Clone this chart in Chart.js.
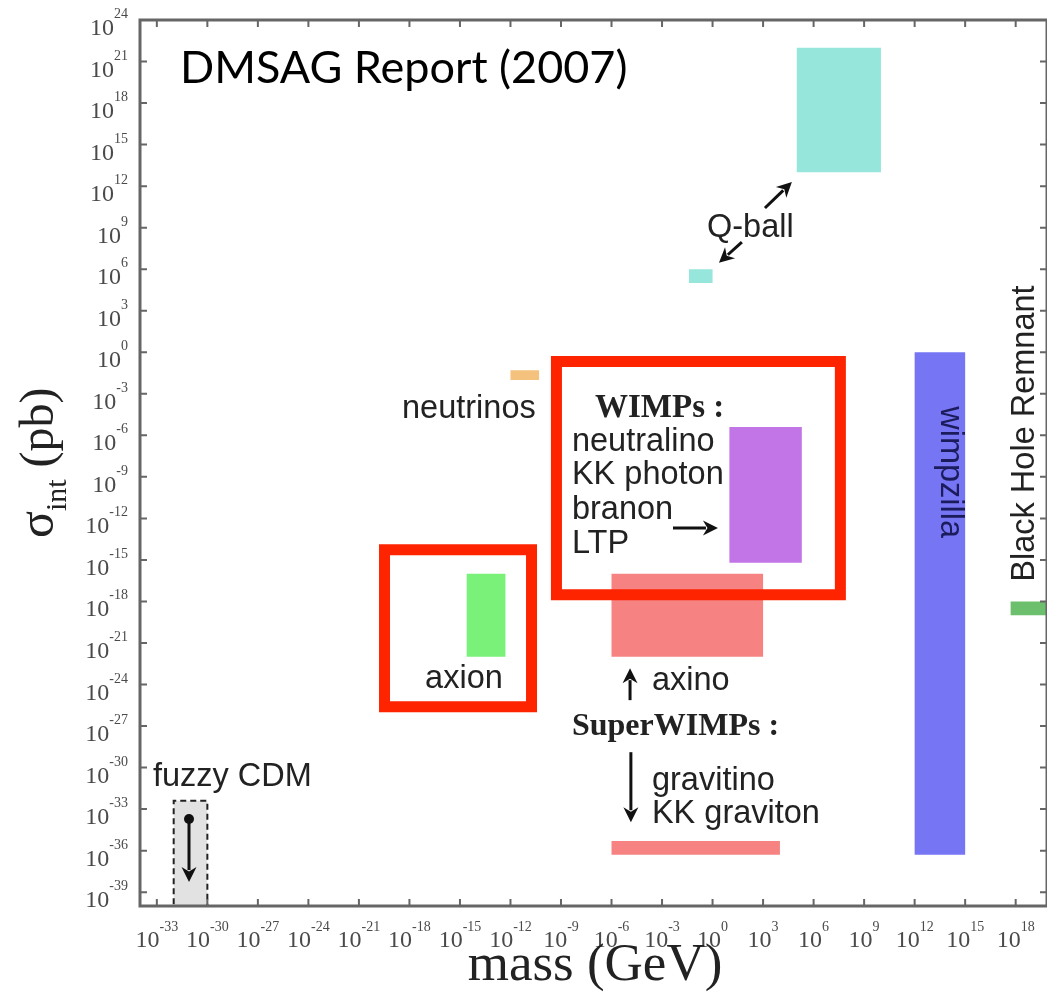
<!DOCTYPE html>
<html>
<head>
<meta charset="utf-8">
<script src="https://cdn.jsdelivr.net/npm/chart.js@4.4.1/dist/chart.umd.min.js"></script>
<style>
  html, body { margin: 0; background: #fff; }
  #wrap { width: 1047px; height: 1001px; position: relative; }
</style>
</head>
<body>
<div id="wrap"><canvas id="chart"></canvas></div>
<script>
// everything is in log10 units (mass in GeV, cross section in pb)
const xRange = [-34, 19.86];
const yRange = [-40, 24];
const xTickExps = [-33, -30, -27, -24, -21, -18, -15, -12, -9, -6, -3, 0, 3, 6, 9, 12, 15, 18];
const yTickExps = [-39, -36, -33, -30, -27, -24, -21, -18, -15, -12, -9, -6, -3, 0, 3, 6, 9, 12, 15, 18, 21, 24];

// candidate regions
const names   = ['Q-ball', 'Q-ball light', 'neutrinos', 'WIMPs', 'axino', 'axion', 'gravitino', 'wimpzilla', 'Black Hole Remnant', 'fuzzy CDM'];
const massLo  = [5, -1.4, -12, 1, -6, -14.6, -6, 12, 17.7, -32];
const massHi  = [10, 0, -10.3, 5.3, 3, -12.3, 4, 15, 20, -30];
const sigmaLo = [13, 5, -2, -15.2, -22, -22, -36.3, -36.3, -19, -40];
const sigmaHi = [22, 6, -1.3, -5.4, -16, -16, -35.3, 0, -18, -32.4];
const fills   = ['#96e6dc', '#96e6dc', '#f4c27c', '#c275e6', '#f68282', '#7af27a', '#f68282', '#7676f4', '#6cbf6c', '#e2e2e2'];

// red highlight frames (log10 units)
const hlMassLo  = [-9.27, -19.48];
const hlMassHi  = [7.59, -10.75];
const hlSigmaLo = [-17.51, -25.61];
const hlSigmaHi = [-0.67, -14.27];

function box(x0, x1, y0, y1) {
  return [{x: x0, y: y0}, {x: x1, y: y0}, {x: x1, y: y1}, {x: x0, y: y1}, {x: x0, y: y0}];
}

const datasets = [];
hlMassLo.forEach((v, i) => {
  datasets.push({
    label: 'highlight ' + i,
    data: box(v, hlMassHi[i], hlSigmaLo[i], hlSigmaHi[i]),
    showLine: true, fill: false, pointRadius: 0,
    borderColor: '#ff2400', borderWidth: 11,
    borderJoinStyle: 'miter', borderCapStyle: 'square'
  });
});
names.forEach((n, i) => {
  const fuzzy = n === 'fuzzy CDM';
  datasets.push({
    label: n,
    data: box(massLo[i], massHi[i], sigmaLo[i], sigmaHi[i]),
    showLine: true, fill: 'shape', pointRadius: 0,
    backgroundColor: fills[i],
    borderColor: fuzzy ? '#222' : 'rgba(0,0,0,0)',
    borderWidth: fuzzy ? 2 : 0,
    borderDash: fuzzy ? [6, 4] : []
  });
});

// annotations in log10 units
const arrows = [
  [3.11, 10.42, 4.71, 12.30],
  [1.74, 7.96, 0.38, 6.46],
  [-2.35, -12.70, 0.32, -12.70],
  [-4.90, -25.13, -4.90, -22.82],
  [-4.85, -28.89, -4.85, -33.95],
  [-31.09, -33.72, -31.09, -38.27]
];
const SANS = '32.5px "Liberation Sans"';
const BOLD = 'bold 33px "Liberation Serif"';
const labels = [
  ['Q-ball', -0.33, 8.31, SANS],
  ['neutrinos', -18.44, -4.75, SANS],
  ['WIMPs :', -6.98, -4.68, BOLD],
  ['neutralino', -8.35, -7.14, SANS],
  ['KK photon', -8.35, -9.52, SANS],
  ['branon', -8.35, -12.05, SANS],
  ['LTP', -8.35, -14.51, SANS],
  ['axion', -17.07, -24.26, SANS],
  ['axino', -3.60, -24.40, SANS],
  ['SuperWIMPs :', -8.35, -27.66, 'bold 32px "Liberation Serif"'],
  ['gravitino', -3.60, -31.63, SANS],
  ['KK graviton', -3.60, -34.02, SANS],
  ['fuzzy CDM', -33.23, -31.34, SANS]
];

function drawArrow(ctx, x0, y0, x1, y1) {
  const a = Math.atan2(y1 - y0, x1 - x0), c = Math.cos(a), s = Math.sin(a);
  const hl = 15, hw = 7.5;
  ctx.beginPath();
  ctx.moveTo(x0, y0);
  ctx.lineTo(x1 - hl * 0.8 * c, y1 - hl * 0.8 * s);
  ctx.stroke();
  ctx.beginPath();
  ctx.moveTo(x1, y1);
  ctx.lineTo(x1 - hl * c + hw * s, y1 - hl * s - hw * c);
  ctx.lineTo(x1 - hl * 0.7 * c, y1 - hl * 0.7 * s);
  ctx.lineTo(x1 - hl * c - hw * s, y1 - hl * s + hw * c);
  ctx.closePath();
  ctx.fill();
}

function drawPow(ctx, exp, px, py, horizontal) {
  const base = '10', sup = String(exp);
  ctx.font = '24px "Liberation Serif"';
  const wb = ctx.measureText(base).width;
  ctx.font = '14px "Liberation Serif"';
  const ws = ctx.measureText(sup).width;
  let x0, yb, ys;
  if (horizontal) { x0 = px - (wb + ws) / 2; yb = 947; ys = 931; }
  else { x0 = 128 - wb - ws; yb = py + 15; ys = py - 2; }
  ctx.textAlign = 'left';
  ctx.textBaseline = 'alphabetic';
  ctx.font = '24px "Liberation Serif"';
  ctx.fillText(base, x0, yb);
  ctx.font = '14px "Liberation Serif"';
  ctx.fillText(sup, x0 + wb, ys);
}

const frame = {
  id: 'frame',
  afterDatasetsDraw(chart) {
    const {ctx, chartArea: a, scales: {x, y}} = chart;
    ctx.save();
    // spines and inward ticks
    ctx.strokeStyle = '#666';
    ctx.lineWidth = 3;
    ctx.strokeRect(a.left, a.top, a.right - a.left, a.bottom - a.top);
    ctx.lineWidth = 2;
    ctx.beginPath();
    xTickExps.forEach(v => {
      const px = x.getPixelForValue(v);
      ctx.moveTo(px, a.bottom); ctx.lineTo(px, a.bottom - 7);
      ctx.moveTo(px, a.top); ctx.lineTo(px, a.top + 7);
    });
    yTickExps.forEach(v => {
      const py = y.getPixelForValue(v);
      ctx.moveTo(a.left, py); ctx.lineTo(a.left + 7, py);
      ctx.moveTo(a.right, py); ctx.lineTo(a.right - 7, py);
    });
    ctx.stroke();

    // tick labels
    ctx.fillStyle = '#4a4a4a';
    xTickExps.forEach(v => drawPow(ctx, v, x.getPixelForValue(v), 0, true));
    yTickExps.forEach(v => drawPow(ctx, v, 0, y.getPixelForValue(v), false));

    // axis titles
    ctx.fillStyle = '#222';
    ctx.textBaseline = 'alphabetic';
    ctx.textAlign = 'center';
    ctx.font = '53px "Liberation Serif"';
    ctx.fillText('mass (GeV)', 595, 980);
    ctx.save();
    ctx.translate(53, 538);
    ctx.rotate(-Math.PI / 2);
    ctx.textAlign = 'left';
    ctx.font = '50px "Liberation Serif"';
    ctx.fillText('σ', 0, 0);
    let w = ctx.measureText('σ').width;
    ctx.font = '30px "Liberation Serif"';
    ctx.fillText('int', w, 13);
    w += ctx.measureText('int').width;
    ctx.font = '48px "Liberation Serif"';
    ctx.fillText(' (pb)', w, 0);
    ctx.restore();

    // title
    ctx.fillStyle = '#000';
    ctx.textAlign = 'left';
    ctx.font = '46px Lato';
    const tw = ctx.measureText('DMSAG Report (2007)').width;
    ctx.font = (46 * 448 / tw).toFixed(1) + 'px Lato';
    ctx.fillText('DMSAG Report (2007)', x.getPixelForValue(-31.63), y.getPixelForValue(19.45));

    // labels
    ctx.fillStyle = '#222';
    labels.forEach(([t, lx, ly, f]) => {
      ctx.font = f;
      ctx.fillText(t, x.getPixelForValue(lx), y.getPixelForValue(ly));
    });

    // rotated labels
    ctx.font = SANS;
    ctx.textAlign = 'center';
    ctx.textBaseline = 'middle';
    ctx.save();
    ctx.translate(x.getPixelForValue(14.10), y.getPixelForValue(-8.66));
    ctx.rotate(Math.PI / 2);
    ctx.fillStyle = '#1c1c5c';
    ctx.fillText('wimpzilla', 0, 0);
    ctx.restore();
    ctx.save();
    ctx.translate(x.getPixelForValue(18.55), y.getPixelForValue(-5.87));
    ctx.rotate(-Math.PI / 2);
    ctx.fillText('Black Hole Remnant', 0, 0);
    ctx.restore();

    // arrows
    ctx.strokeStyle = '#111';
    ctx.fillStyle = '#111';
    ctx.lineWidth = 3;
    arrows.forEach(([x0, y0, x1, y1]) => {
      drawArrow(ctx, x.getPixelForValue(x0), y.getPixelForValue(y0), x.getPixelForValue(x1), y.getPixelForValue(y1));
    });
    const f = arrows[arrows.length - 1];
    ctx.beginPath();
    ctx.arc(x.getPixelForValue(f[0]), y.getPixelForValue(f[1]), 5, 0, Math.PI * 2);
    ctx.fill();
    ctx.restore();
  }
};

new Chart(document.getElementById('chart'), {
  type: 'scatter',
  data: { datasets },
  options: {
    responsive: true,
    maintainAspectRatio: false,
    animation: false,
    layout: { padding: { left: 140, top: 20, right: 0, bottom: 95 } },
    elements: { line: { tension: 0 } },
    scales: {
      x: { type: 'linear', min: xRange[0], max: xRange[1], display: false },
      y: { type: 'linear', min: yRange[0], max: yRange[1], display: false }
    },
    plugins: { legend: { display: false }, tooltip: { enabled: false } }
  },
  plugins: [frame]
});
</script>
</body>
</html>
